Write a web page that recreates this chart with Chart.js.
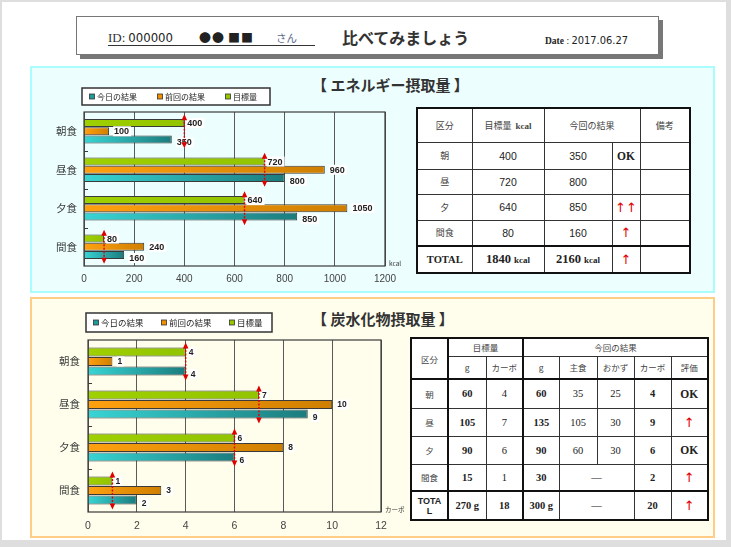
<!DOCTYPE html>
<html>
<head>
<meta charset="utf-8">
<script src="https://cdn.jsdelivr.net/npm/chart.js@4.4.1/dist/chart.umd.min.js"></script>
<style>
  html, body { margin: 0; padding: 0; }
  body { width: 731px; height: 547px; background: #dedede; position: relative; overflow: hidden;
         font-family: "Noto Sans CJK JP", "Liberation Sans", sans-serif; color: #222; }
  .abs { position: absolute; }
  #sheet { left: 2px; top: 2px; width: 724px; height: 538px; background: #fff; }
  #head { left: 76px; top: 16px; width: 583px; height: 39px; box-sizing: border-box;
          border: 1px solid #777; background: #fff; box-shadow: 4px 4px 0 #777; }
  #idline { left: 108px; top: 30px; width: 207px; height: 15px; line-height: 15px; border-bottom: 1.5px solid #333; white-space: nowrap; }
  #idline span { line-height: 15px; vertical-align: top; }
  .ser { font-family: "Liberation Serif", serif; }
  .narrow { font-family: "Liberation Sans Narrow", "DejaVu Sans Condensed", "Liberation Sans", sans-serif; }
  #ptitle { left: 342px; top: 25px; font-size: 16px; font-weight: bold; color: #333; white-space: nowrap; }
  #date { left: 545px; top: 31px; font-size: 11px; white-space: nowrap; color: #222; }
  .panel { box-sizing: border-box; border: 2px solid; }
  #p1 { left: 30px; top: 66px; width: 685px; height: 227px; border-color: #a9fdfd; background: #edfefe; }
  #p2 { left: 30px; top: 297px; width: 685px; height: 241px; border-color: #ffcd85; background: #fffeec; }
  .stitle { font-size: 15px; font-weight: bold; color: #333; white-space: nowrap; }
  .wrap { position: absolute; }
  table { position: absolute; border-collapse: collapse; table-layout: fixed; background: #fff; }
  td { border: 1px solid #333; text-align: center; vertical-align: middle; padding: 0; overflow: hidden; white-space: nowrap; }
  #t1 { left: 416px; top: 107px; width: 273px; height: 165px; border: 2px solid #111; }
  #t1 td { font-size: 10.5px; font-family: "Liberation Sans", sans-serif; color: #222; }
  #t1 td.hd { font-family: "Noto Sans CJK JP", sans-serif; font-size: 9px; color: #444; }
  #t1 tr.tot td { border-top: 2.5px solid #111; font-size: 12.5px; }
  #t1 tr.tot td.lbl { font-size: 10.5px; }
  #t2 { left: 410px; top: 337px; width: 297px; height: 182px; border: 2px solid #111; }
  #t2 td { font-size: 10.5px; font-family: "Liberation Serif", serif; color: #222; }
  #t2 td.hd { font-family: "Noto Sans CJK JP", sans-serif; font-size: 8.5px; color: #444; font-weight: normal; }
  #t2 td.b { font-weight: bold; }
  #t2 tr.sub td { border-bottom: 2.5px solid #111; }
  #t2 tr.tot td { border-top: 2.5px solid #111; }
  #t2 td.lk { border-right: 2.5px solid #111; }
  .ok { font-family: "Liberation Serif", serif !important; font-weight: bold; font-size: 11.5px !important; }
  .up { color: #e00000 !important; font-size: 13px !important; font-family: "DejaVu Sans", sans-serif !important; }
  .serb { font-family: "Liberation Serif", serif !important; font-weight: bold; }
  .unit { font-size: 9px; }
</style>
</head>
<body>
<div id="sheet" class="abs"></div>
<div id="head" class="abs"></div>
<div id="idline" class="abs">
  <span class="ser" style="font-size:13px;color:#333">ID:</span><span class="narrow" style="font-size:13px;margin-left:3px">000000</span><span style="font-size:12px;margin-left:26px;letter-spacing:1px">●●</span><span style="font-size:12px;margin-left:3px;letter-spacing:1px">■■</span><span style="font-size:10.5px;margin-left:22px;color:#5a6a8a">さん</span>
</div>
<div id="ptitle" class="abs">比べてみましょう</div>
<div id="date" class="abs"><span class="ser" style="font-weight:bold;font-size:9.5px">Date</span><span class="ser" style="font-size:9.5px"> : </span><span class="narrow">2017.06.27</span></div>

<div id="p1" class="abs panel"></div>
<div class="abs stitle" style="left:312px;top:74px">【 エネルギー摂取量 】</div>
<div class="wrap" style="left:36px;top:84px;width:370px;height:210px"><canvas id="energyChart"></canvas></div>
<table id="t1"></table>

<div id="p2" class="abs panel"></div>
<div class="abs stitle" style="left:312px;top:308px">【 炭水化物摂取量 】</div>
<div class="wrap" style="left:36px;top:308px;width:370px;height:228px"><canvas id="carbChart"></canvas></div>
<table id="t2"></table>

<script>
// chart data
const mealLabels = ['朝食', '昼食', '夕食', '間食'];
const seriesNames = ['目標量', '前回の結果', '今日の結果'];

const energyTarget = [400, 720, 640, 80];
const energyPrevious = [100, 960, 1050, 240];
const energyToday = [350, 800, 850, 160];
const energyTicks = [0, 200, 400, 600, 800, 1000, 1200];

const carbTarget = [4, 7, 6, 1];
const carbPrevious = [1, 10, 8, 3];
const carbToday = [4, 9, 6, 2];
const carbTicks = [0, 2, 4, 6, 8, 10, 12];

// table data
const rowNames = ['朝', '昼', '夕', '間食'];
const energyMarks = ['OK', '', '↑↑', '↑'];
const energyTotals = ['1840', '2160', '↑'];

const carbTargetGrams = [60, 105, 90, 15];
const carbResultGrams = [60, 135, 90, 30];
const carbStaple = [35, 105, 60, null];
const carbSide = [25, 30, 30, null];
const carbMarks = ['OK', '↑', 'OK', '↑'];
const carbTotals = ['270', '18', '300', '20', '↑'];

// bar fill: light -> dark along each bar
function barFill(light, dark) {
  return function (ctx) {
    const chart = ctx.chart;
    if (!chart.chartArea || ctx.type !== 'data' || !chart.scales.x) return light;
    const x0 = chart.scales.x.getPixelForValue(0);
    const x1 = chart.scales.x.getPixelForValue(ctx.raw);
    if (!isFinite(x0) || !isFinite(x1) || x1 <= x0) return light;
    const g = chart.ctx.createLinearGradient(x0, 0, x1, 0);
    g.addColorStop(0, light);
    g.addColorStop(1, dark);
    return g;
  };
}

const seriesLight = ['#9fd000', '#ffa010', '#38d4d4'];
const seriesDark = ['#92c400', '#cf7f00', '#1c7c7e'];
const legendColors = ['#96c800', '#f09000', '#1f9a9a'];

// frame, value labels, target arrows, unit, legend box
const decorPlugin = {
  id: 'decor',
  afterDatasetsDraw(chart, args, opts) {
    const ctx = chart.ctx;
    const a = chart.chartArea;
    const x = chart.scales.x, y = chart.scales.y;
    ctx.save();

    ctx.strokeStyle = '#3a3a3a';
    ctx.lineWidth = 1.2;
    ctx.strokeRect(a.left, a.top, a.right - a.left, a.bottom - a.top);

    const n = chart.data.labels.length;
    const step = (a.bottom - a.top) / n;
    ctx.beginPath();
    for (let i = 1; i < n; i++) {
      const yy = Math.round(a.top + step * i) + 0.5;
      ctx.moveTo(a.left, yy);
      ctx.lineTo(a.left + 4, yy);
    }
    ctx.lineWidth = 1;
    ctx.stroke();

    // value labels
    ctx.font = opts.labelFont;
    ctx.textBaseline = 'middle';
    ctx.textAlign = 'left';
    const dxs = [3, 5, 5], dys = [0, 0, 3];
    chart.data.datasets.forEach((ds, di) => {
      chart.getDatasetMeta(di).data.forEach((bar, i) => {
        const txt = String(ds.data[i]);
        const tx = bar.x + dxs[di], ty = bar.y + dys[di];
        const w = ctx.measureText(txt).width;
        ctx.fillStyle = '#ffffff';
        ctx.fillRect(tx - 1, ty - 5, w + 3, 10);
        ctx.fillStyle = '#222';
        ctx.fillText(txt, tx, ty + 0.5);
      });
    });

    // target arrows
    ctx.strokeStyle = '#e00000';
    ctx.fillStyle = '#e00000';
    ctx.lineWidth = 1.4;
    opts.targets.forEach((v, i) => {
      const px = x.getPixelForValue(v);
      const cy = y.getPixelForValue(i);
      const half = step * 0.44;
      ctx.setLineDash([2, 1.5]);
      ctx.beginPath();
      ctx.moveTo(px, cy - half + 4);
      ctx.lineTo(px, cy + half - 4);
      ctx.stroke();
      ctx.setLineDash([]);
      ctx.beginPath();
      ctx.moveTo(px, cy - half);
      ctx.lineTo(px - 2.8, cy - half + 6);
      ctx.lineTo(px + 2.8, cy - half + 6);
      ctx.closePath();
      ctx.moveTo(px, cy + half);
      ctx.lineTo(px - 2.8, cy + half - 6);
      ctx.lineTo(px + 2.8, cy + half - 6);
      ctx.closePath();
      ctx.fill();
    });

    // unit
    ctx.fillStyle = '#333';
    ctx.font = '6.5px "Noto Sans CJK JP", sans-serif';
    ctx.fillText(opts.unit, a.right + 4, a.bottom - 2);
    ctx.restore();
  },
  afterDraw(chart, args, opts) {
    const ctx = chart.ctx;
    const a = chart.chartArea;
    const b = opts.legend;
    const left = a.left - 2;
    ctx.save();
    ctx.fillStyle = '#ffffff';
    ctx.fillRect(left, b.top, b.width, b.height);
    ctx.strokeStyle = '#333';
    ctx.lineWidth = 1.5;
    ctx.strokeRect(left, b.top, b.width, b.height);
    ctx.font = b.font;
    ctx.textBaseline = 'middle';
    const order = [2, 1, 0];
    order.forEach((di, k) => {
      const mx = left + 10 + k * 68;
      const my = b.top + b.height / 2;
      ctx.fillStyle = legendColors[di];
      ctx.fillRect(mx - 2.5, my - 2.5, 5, 5);
      ctx.strokeStyle = '#333';
      ctx.lineWidth = 0.8;
      ctx.strokeRect(mx - 2.5, my - 2.5, 5, 5);
      ctx.fillStyle = '#222';
      ctx.fillText(chart.data.datasets[di].label, mx + 5, my + 0.5);
    });
    ctx.restore();
  }
};

function makeChart(id, data, ticks, cfg) {
  const datasets = data.map((vals, di) => ({
    label: seriesNames[di],
    data: vals,
    backgroundColor: barFill(seriesLight[di], seriesDark[di]),
    borderColor: '#3a3a3a',
    borderWidth: 1,
    categoryPercentage: cfg.catPct,
    barPercentage: 0.96
  }));
  const chart = new Chart(document.getElementById(id), {
    type: 'bar',
    data: { labels: mealLabels, datasets: datasets },
    options: {
      indexAxis: 'y',
      responsive: true,
      maintainAspectRatio: false,
      animation: false,
      layout: { padding: cfg.padding },
      plugins: {
        legend: { display: false },
        tooltip: { enabled: false },
        decor: cfg.decor
      },
      scales: {
        x: {
          min: ticks[0],
          max: ticks[ticks.length - 1],
          afterBuildTicks: (scale) => { scale.ticks = ticks.map(v => ({ value: v })); },
          afterFit: (scale) => { scale.height = cfg.xHeight; },
          grid: { color: '#5a5a5a', lineWidth: 1, drawTicks: false },
          border: { display: false },
          ticks: {
            color: '#444', padding: cfg.tickPad,
            font: { size: cfg.tickSize, family: '"Liberation Sans", sans-serif' },
            callback: (v) => String(v)
          }
        },
        y: {
          afterFit: (scale) => { scale.width = cfg.yWidth; },
          grid: { display: false, drawTicks: false },
          border: { display: false },
          ticks: { color: '#3a3a3a', padding: cfg.yPad, font: { size: 10.5, family: '"Noto Sans CJK JP", sans-serif' } }
        }
      }
    },
    plugins: [decorPlugin]
  });
  chart.update();
  return chart;
}

makeChart('energyChart', [energyTarget, energyPrevious, energyToday], energyTicks, {
  catPct: 0.64,
  padding: { left: 0, right: 21, top: 28, bottom: 0 },
  xHeight: 28, yWidth: 48, tickPad: 7, tickSize: 10, yPad: 7,
  decor: {
    targets: energyTarget, unit: 'kcal', labelFont: 'bold 9px "Liberation Sans", sans-serif',
    legend: { top: 4, width: 188, height: 17, font: '8px "Noto Sans CJK JP", sans-serif' }
  }
});

makeChart('carbChart', [carbTarget, carbPrevious, carbToday], carbTicks, {
  catPct: 0.66,
  padding: { left: 0, right: 25, top: 32, bottom: 0 },
  xHeight: 24, yWidth: 52, tickPad: 8, tickSize: 10.5, yPad: 8,
  decor: {
    targets: carbTarget, unit: 'カーボ', labelFont: 'bold 8.5px "Liberation Sans", sans-serif',
    legend: { top: 5, width: 186, height: 19, font: '8.5px "Noto Sans CJK JP", sans-serif' }
  }
});

// energy table
function markCell(m) {
  if (m === 'OK') return '<td class="ok">OK</td>';
  return '<td class="up">' + m + '</td>';
}
(function () {
  const widths = [55, 72, 68, 28, 50];
  const heights = [27, 25, 26, 26];
  let h = '<colgroup>' + widths.map(w => '<col style="width:' + w + 'px">').join('') + '</colgroup>';
  h += '<tr style="height:34px"><td class="hd">区分</td><td class="hd">目標量&nbsp; <span class="serb unit">kcal</span></td>' +
       '<td class="hd" colspan="2">今回の結果</td><td class="hd">備考</td></tr>';
  rowNames.forEach((r, i) => {
    h += '<tr style="height:' + heights[i] + 'px"><td class="hd">' + r + '</td><td>' + energyTarget[i] + '</td><td>' +
         energyToday[i] + '</td>' + markCell(energyMarks[i]) + '<td></td></tr>';
  });
  h += '<tr class="tot" style="height:27px"><td class="serb lbl">TOTAL</td>' +
       '<td class="serb">' + energyTotals[0] + ' <span class="unit">kcal</span></td>' +
       '<td class="serb">' + energyTotals[1] + ' <span class="unit">kcal</span></td>' +
       markCell(energyTotals[2]) + '<td></td></tr>';
  document.getElementById('t1').innerHTML = h;
})();

// carb table
(function () {
  const widths = [37, 38, 37, 36, 38, 37, 37, 37];
  const heights = [29, 28, 28, 27];
  let h = '<colgroup>' + widths.map(w => '<col style="width:' + w + 'px">').join('') + '</colgroup>';
  h += '<tr style="height:18px"><td class="hd lk" rowspan="2" style="border-bottom:2.5px solid #111">区分</td>' +
       '<td class="hd" colspan="2" style="border-right:2.5px solid #111">目標量</td><td class="hd" colspan="5">今回の結果</td></tr>';
  h += '<tr class="sub" style="height:23px"><td class="hd">g</td><td class="hd lk">カーボ</td><td class="hd">g</td>' +
       '<td class="hd">主食</td><td class="hd">おかず</td><td class="hd">カーボ</td><td class="hd">評価</td></tr>';
  rowNames.forEach((r, i) => {
    let row = '<tr style="height:' + heights[i] + 'px"><td class="hd lk">' + r + '</td>' +
      '<td class="b">' + carbTargetGrams[i] + '</td><td class="lk">' + carbTarget[i] + '</td>' +
      '<td class="b">' + carbResultGrams[i] + '</td>';
    if (carbStaple[i] === null) row += '<td colspan="2">—</td>';
    else row += '<td>' + carbStaple[i] + '</td><td>' + carbSide[i] + '</td>';
    row += '<td class="b">' + carbToday[i] + '</td>' + markCell(carbMarks[i]) + '</tr>';
    h += row;
  });
  h += '<tr class="tot" style="height:29px"><td class="lk" style="font-family:\'Liberation Sans\',sans-serif;font-weight:bold;font-size:9px;line-height:10px;white-space:normal">TOTA<br>L</td>' +
       '<td class="b">' + carbTotals[0] + ' g</td><td class="b lk">' + carbTotals[1] + '</td>' +
       '<td class="b">' + carbTotals[2] + ' g</td><td colspan="2">—</td>' +
       '<td class="b">' + carbTotals[3] + '</td>' + markCell(carbTotals[4]) + '</tr>';
  document.getElementById('t2').innerHTML = h;
})();
</script>
</body>
</html>
